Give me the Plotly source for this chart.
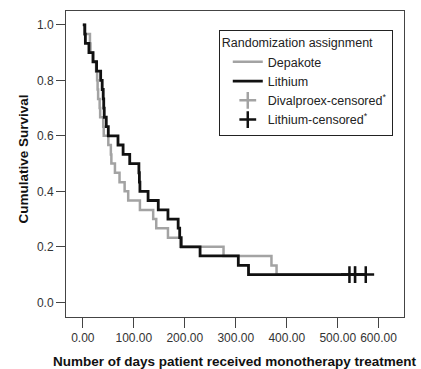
import plotly.graph_objects as go

# Kaplan-Meier step data (days, cumulative survival)
lith_days = [0, 4, 5, 12, 20, 27, 35, 38, 40, 41, 42, 46, 50, 69, 79, 92, 110, 111, 112,
             128, 148, 167, 187, 190, 193, 230, 305, 325, 555]
lith_surv = [1.0, 0.967, 0.933, 0.9, 0.867, 0.833, 0.8, 0.767, 0.733, 0.7, 0.667, 0.633, 0.6,
             0.567, 0.533, 0.5, 0.467, 0.433, 0.4, 0.367, 0.333, 0.3, 0.267, 0.233, 0.2,
             0.167, 0.133, 0.1, 0.1]

dep_days = [0, 3, 14, 15, 20, 26, 28, 29, 30, 33, 34, 40, 41, 50, 55, 56, 63, 72, 82, 89,
            112, 138, 144, 167, 191, 276, 370, 380, 534]
dep_surv = [1.0, 0.967, 0.933, 0.9, 0.867, 0.833, 0.8, 0.767, 0.733, 0.7, 0.667, 0.633, 0.6,
            0.567, 0.533, 0.5, 0.467, 0.433, 0.4, 0.367, 0.333, 0.3, 0.267, 0.233, 0.2,
            0.167, 0.133, 0.1, 0.1]

dep_cens_days = [534]
dep_cens_surv = [0.1]
lith_cens_days = [523, 534, 555]
lith_cens_surv = [0.1, 0.1, 0.1]

x_tick_vals = [0, 100, 200, 300, 400, 500, 580]
x_tick_text = ["0.00", "100.00", "200.00", "300.00", "400.00", "500.00", "600.00"]
y_tick_vals = [0.0, 0.2, 0.4, 0.6, 0.8, 1.0]

GRAY = "#a3a3a3"
BLACK = "#111111"

fig = go.Figure()
fig.add_trace(go.Scatter(x=dep_days, y=dep_surv, mode="lines", line_shape="hv",
                         line=dict(color=GRAY, width=2.5), name="Depakote"))
fig.add_trace(go.Scatter(x=lith_days, y=lith_surv, mode="lines", line_shape="hv",
                         line=dict(color=BLACK, width=2.8), name="Lithium"))
fig.add_trace(go.Scatter(x=dep_cens_days, y=dep_cens_surv, mode="markers",
                         marker=dict(symbol="cross-thin", size=12,
                                     line=dict(color=GRAY, width=2.5)),
                         name="Divalproex-censored<sup>*</sup>"))
fig.add_trace(go.Scatter(x=lith_cens_days, y=lith_cens_surv, mode="markers",
                         marker=dict(symbol="cross-thin", size=12,
                                     line=dict(color=BLACK, width=2.5)),
                         name="Lithium-censored<sup>*</sup>"))

fig.update_layout(
    width=421, height=369,
    margin=dict(l=66, r=17, t=11, b=52),
    paper_bgcolor="white", plot_bgcolor="white",
    font=dict(family="Liberation Sans, Arial, sans-serif", size=12, color="#222"),
    showlegend=True,
    legend=dict(
        x=0.452, y=0.938, xanchor="left", yanchor="top",
        bordercolor="#222", borderwidth=1, bgcolor="white",
        font=dict(size=12.5, color="#222"),
        title=dict(text="Randomization assignment", font=dict(size=12.5, color="#222")),
        indentation=8,
        tracegroupgap=0,
    ),
    xaxis=dict(
        range=[-33, 630], tickvals=x_tick_vals, ticktext=x_tick_text,
        ticks="outside", ticklen=10, tickwidth=1, tickcolor="#444",
        showline=True, linecolor="#444", linewidth=1, mirror=True,
        showgrid=False, zeroline=False, automargin=False,
        tickfont=dict(size=12, color="#333"),
    ),
    yaxis=dict(
        range=[-0.053, 1.05], tickvals=y_tick_vals, tickformat=".1f",
        ticks="outside", ticklen=9, tickwidth=1, tickcolor="#444",
        showline=True, linecolor="#444", linewidth=1, mirror=True,
        showgrid=False, zeroline=False, automargin=False,
        tickfont=dict(size=12, color="#333"),
    ),
    annotations=[
        dict(text="<b>Number of days patient received monotherapy treatment</b>",
             xref="paper", yref="paper", x=0.5, y=(317 - 361) / 306,
             xanchor="center", yanchor="middle", showarrow=False,
             font=dict(size=13.5, color="#111")),
        dict(text="<b>Cumulative Survival</b>", textangle=-90,
             xref="paper", yref="paper", x=(23 - 66) / 338, y=0.518,
             xanchor="center", yanchor="middle", showarrow=False,
             font=dict(size=13.5, color="#111")),
    ],
)

fig.write_html("out.html", config={"displayModeBar": False},
               post_script="document.body.style.margin='0';")
